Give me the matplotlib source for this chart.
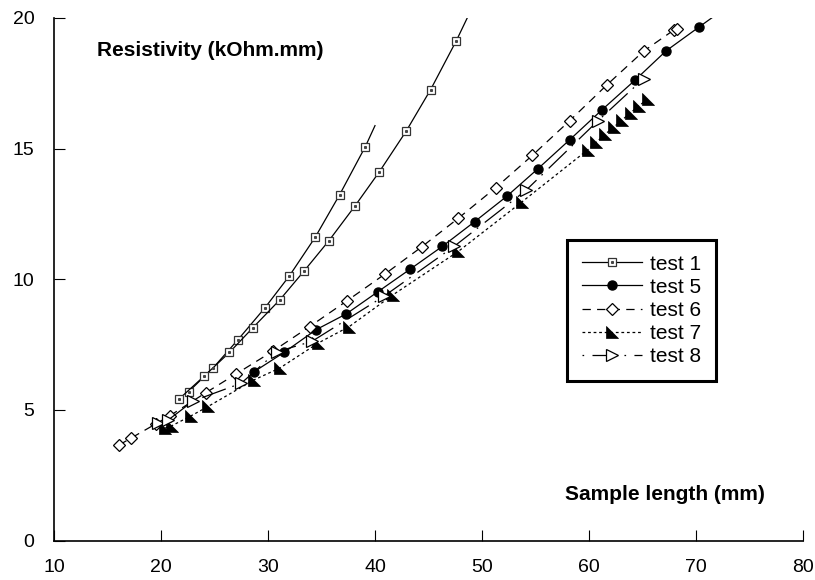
import matplotlib.pyplot as plt
from matplotlib.path import Path
from matplotlib.legend_handler import HandlerTuple

plt.rcParams['font.family'] = ['Liberation Sans', 'DejaVu Sans']
plt.rcParams['lines.scale_dashes'] = False

# test 1 was run twice; the last point of each run is the end of the line (no marker)
t1a_x = [22.6, 24.9, 27.2, 29.7, 32.0, 34.4, 36.7, 39.1, 40.0]
t1a_y = [5.70, 6.62, 7.69, 8.90, 10.13, 11.60, 13.24, 15.08, 15.88]
t1b_x = [21.7, 24.0, 26.4, 28.6, 31.1, 33.4, 35.7, 38.1, 40.4, 42.9, 45.2, 47.6, 48.7]
t1b_y = [5.42, 6.28, 7.20, 8.15, 9.21, 10.33, 11.48, 12.79, 14.11, 15.66, 17.26, 19.13, 20.07]

t5_x = [28.7, 31.5, 34.5, 37.3, 40.3, 43.3, 46.3, 49.3, 52.3, 55.2, 58.2, 61.2, 64.3, 67.2, 70.3, 71.7]
t5_y = [6.46, 7.20, 8.07, 8.67, 9.53, 10.39, 11.26, 12.20, 13.17, 14.22, 15.34, 16.48, 17.62, 18.74, 19.66, 20.07]

t6_x = [16.1, 17.2, 19.5, 20.8, 24.2, 27.0, 30.5, 33.9, 37.4, 40.9, 44.4, 47.8, 51.3, 54.7, 58.2,
        61.7, 65.1, 67.9, 68.2]
t6_y = [3.66, 3.92, 4.46, 4.77, 5.66, 6.37, 7.26, 8.19, 9.18, 10.19, 11.25, 12.34, 13.51, 14.74, 16.07,
        17.45, 18.73, 19.53, 19.59]

t7_x = [20.4, 21.0, 22.8, 24.4, 28.7, 31.1, 34.7, 37.6, 41.7, 47.8, 53.7,
        59.9, 60.7, 61.5, 62.3, 63.1, 63.9, 64.7, 65.5]
t7_y = [4.31, 4.39, 4.77, 5.13, 6.15, 6.60, 7.56, 8.19, 9.41, 11.07, 12.95,
        14.96, 15.25, 15.55, 15.82, 16.10, 16.38, 16.65, 16.90]

t8_x = [19.7, 20.7, 23.0, 27.5, 30.8, 34.1, 40.8, 47.4, 54.1, 60.8, 65.1]
t8_y = [4.50, 4.62, 5.34, 6.02, 7.22, 7.62, 9.34, 11.26, 13.40, 16.05, 17.68]

x_ticks = [10, 20, 30, 40, 50, 60, 70, 80]
y_ticks = [0, 5, 10, 15, 20]

# filled right-angle triangle used for test 7
tri7 = Path([(-1, 1), (-1, -1), (1, -1), (-1, 1)],
            [Path.MOVETO, Path.LINETO, Path.LINETO, Path.CLOSEPOLY])

fig = plt.figure(figsize=(8.15, 5.8), dpi=100)
ax = fig.add_axes([54 / 815, 1 - 540.5 / 580, 749 / 815, 522.5 / 580])

lw = 0.9
sq = dict(color='black', lw=lw, marker='s', ms=6, mfc='white', mec='#333333', mew=0.9,
          markevery=slice(0, -1))
l1, = ax.plot(t1a_x, t1a_y, **sq)
ax.plot(t1b_x, t1b_y, **sq)
# small dot in the centre of the squares
d1, = ax.plot(t1a_x[:-1], t1a_y[:-1], ls='none', marker='s', ms=1.2, color='#444444')
ax.plot(t1b_x[:-1], t1b_y[:-1], ls='none', marker='s', ms=1.2, color='#444444')

l5, = ax.plot(t5_x, t5_y, color='black', lw=lw, marker='o', ms=6.5, mfc='black', mec='black',
              markevery=slice(0, -1))
l6, = ax.plot(t6_x, t6_y, color='black', lw=lw, dashes=(6, 4.5), marker='D', ms=6.5,
              mfc='white', mec='black', mew=0.9)
l7, = ax.plot(t7_x, t7_y, color='black', lw=lw, dashes=(2, 2), marker=tri7, ms=9,
              mfc='black', mec='black', mew=0.5)
l8, = ax.plot(t8_x, t8_y, color='black', lw=lw, dashes=(1.2, 6, 18, 5), marker='>', ms=9,
              mfc='white', mec='black', mew=0.9)

ax.set_xlim(10, 80)
ax.set_ylim(0, 20)
ax.set_xticks(x_ticks)
ax.set_yticks(y_ticks)
ax.spines['top'].set_visible(False)
ax.spines['right'].set_visible(False)
ax.spines['left'].set_linewidth(1.2)
ax.spines['bottom'].set_linewidth(1.2)
ax.tick_params(axis='x', direction='in', length=8, width=0.8, pad=13, labelsize=14)
ax.tick_params(axis='y', direction='in', length=8, width=0.8, pad=14, labelsize=14)

fig.text(97 / 815, 1 - 50 / 580, 'Resistivity (kOhm.mm)', fontsize=15, fontweight='bold',
         va='center', ha='left')
fig.text(765 / 815, 1 - 494 / 580, 'Sample length (mm)', fontsize=15, fontweight='bold',
         va='center', ha='right')

leg = fig.legend([(l1, d1), l5, l6, l7, l8], ['test 1', 'test 5', 'test 6', 'test 7', 'test 8'],
                 handler_map={tuple: HandlerTuple(ndivide=1, pad=0)},
                 loc='upper left', bbox_to_anchor=(567 / 815, 1 - 240 / 580), borderaxespad=0,
                 fontsize=15, handlelength=2.9, handletextpad=0.4, labelspacing=0.2,
                 borderpad=0.7, fancybox=False, edgecolor='black', framealpha=1)
leg.get_frame().set_linewidth(2.2)

fig.savefig('out.png', dpi=100)
